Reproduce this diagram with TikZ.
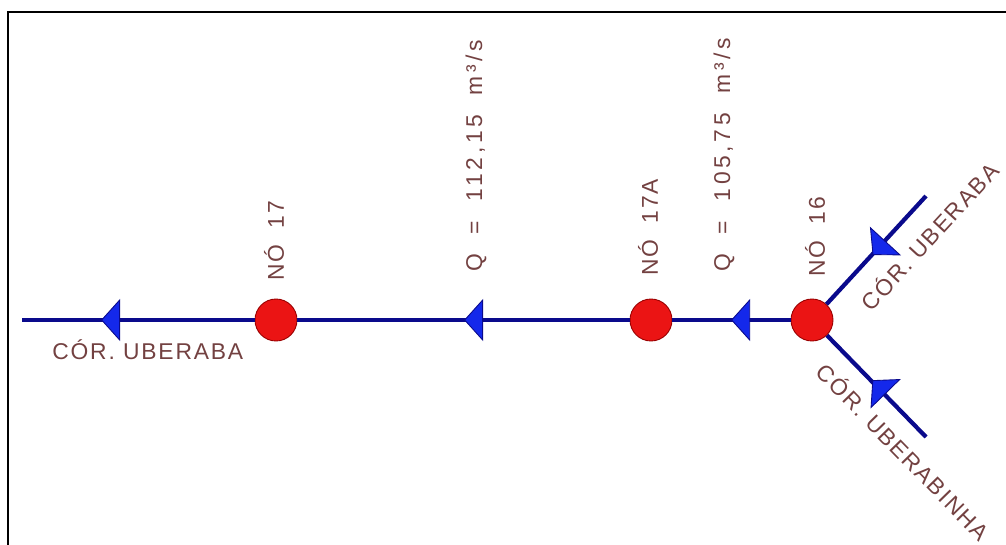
\documentclass[tikz,border=0pt]{standalone}
\usepackage{fontspec}
\newfontfamily\cadfont[LetterSpace=8]{Liberation Sans}
\usetikzlibrary{shapes.geometric}
\definecolor{azulrio}{RGB}{10,10,140}
\definecolor{azulseta}{RGB}{20,40,235}
\definecolor{vermelhono}{RGB}{235,20,20}
\definecolor{marrom}{RGB}{115,65,65}
\newcommand{\esp}{\hspace{0.72em}}
\newcommand{\espq}{\hspace{0.86em}}
\newcommand{\vazao}{\addfontfeatures{LetterSpace=16}}

\begin{document}
\begin{tikzpicture}[x=0.02cm,y=-0.02cm]
  \tikzstyle{rio}=[draw=azulrio,line width=2.4pt]
  \tikzstyle{no}=[circle,draw=red!60!black,line width=0.5pt,fill=vermelhono,minimum size=0.84cm,inner sep=0pt]
  \tikzstyle{seta}=[isosceles triangle,isosceles triangle stretches,draw=azulrio,fill=azulseta,line width=0.5pt,inner sep=0pt,minimum width=0.8cm,minimum height=0.36cm]
  \tikzstyle{rotulo}=[text=marrom,font=\cadfont\fontsize{13}{15}\selectfont,inner sep=0pt]
  \useasboundingbox (0,0) rectangle (1006,544);
  \draw[line width=1.4pt] (8,12) rectangle (1030,570);
  % nos e extremidades
  \coordinate (ini) at (22,320);
  \node[no] (n17) at (276,320) {};
  \node[no] (n17a) at (651,320) {};
  \node[no] (n16) at (812,320) {};
  \coordinate (fim1) at (926,196);
  \coordinate (fim2) at (926,437);
  % trechos
  \draw[rio] (ini) -- (n17);
  \draw[rio] (n17) -- (n17a);
  \draw[rio] (n17a) -- (n16);
  \draw[rio] (n16) -- (fim1);
  \draw[rio] (n16) -- (fim2);
  % sentido do escoamento
  \node[seta,rotate=180] (s1) at (112,320) {};
  \node[seta,rotate=180] (s2) at (475,320) {};
  \node[seta,rotate=180] (s3) at (742,320) {};
  \node[seta,rotate=-132.6] (s4) at (880,247) {};
  \node[seta,rotate=134.3] (s5) at (880,388) {};
  % rotulos
  \node[rotulo,rotate=90,anchor=west] (l17) at (274,281) {NÓ\esp 17};
  \node[rotulo,rotate=90,anchor=west] (l17a) at (648,276) {NÓ\esp 17A};
  \node[rotulo,rotate=90,anchor=west] (l16) at (815,277) {NÓ\esp 16};
  \node[rotulo,rotate=90,anchor=west] (q1) at (476,272) {\vazao Q\espq =\espq 112,15\espq m³/s};
  \node[rotulo,rotate=90,anchor=west] (q2) at (724,272) {\vazao Q\espq =\espq 105,75\espq m³/s};
  \node[rotulo,anchor=west] (c1) at (52,350) {CÓR. UBERABA};
  \node[rotulo,rotate=47.4] (c2) at (929,236) {CÓR. UBERABA};
  \node[rotulo,rotate=-45.7] (c3) at (904,451) {CÓR. UBERABINHA};
\end{tikzpicture}
\end{document}
